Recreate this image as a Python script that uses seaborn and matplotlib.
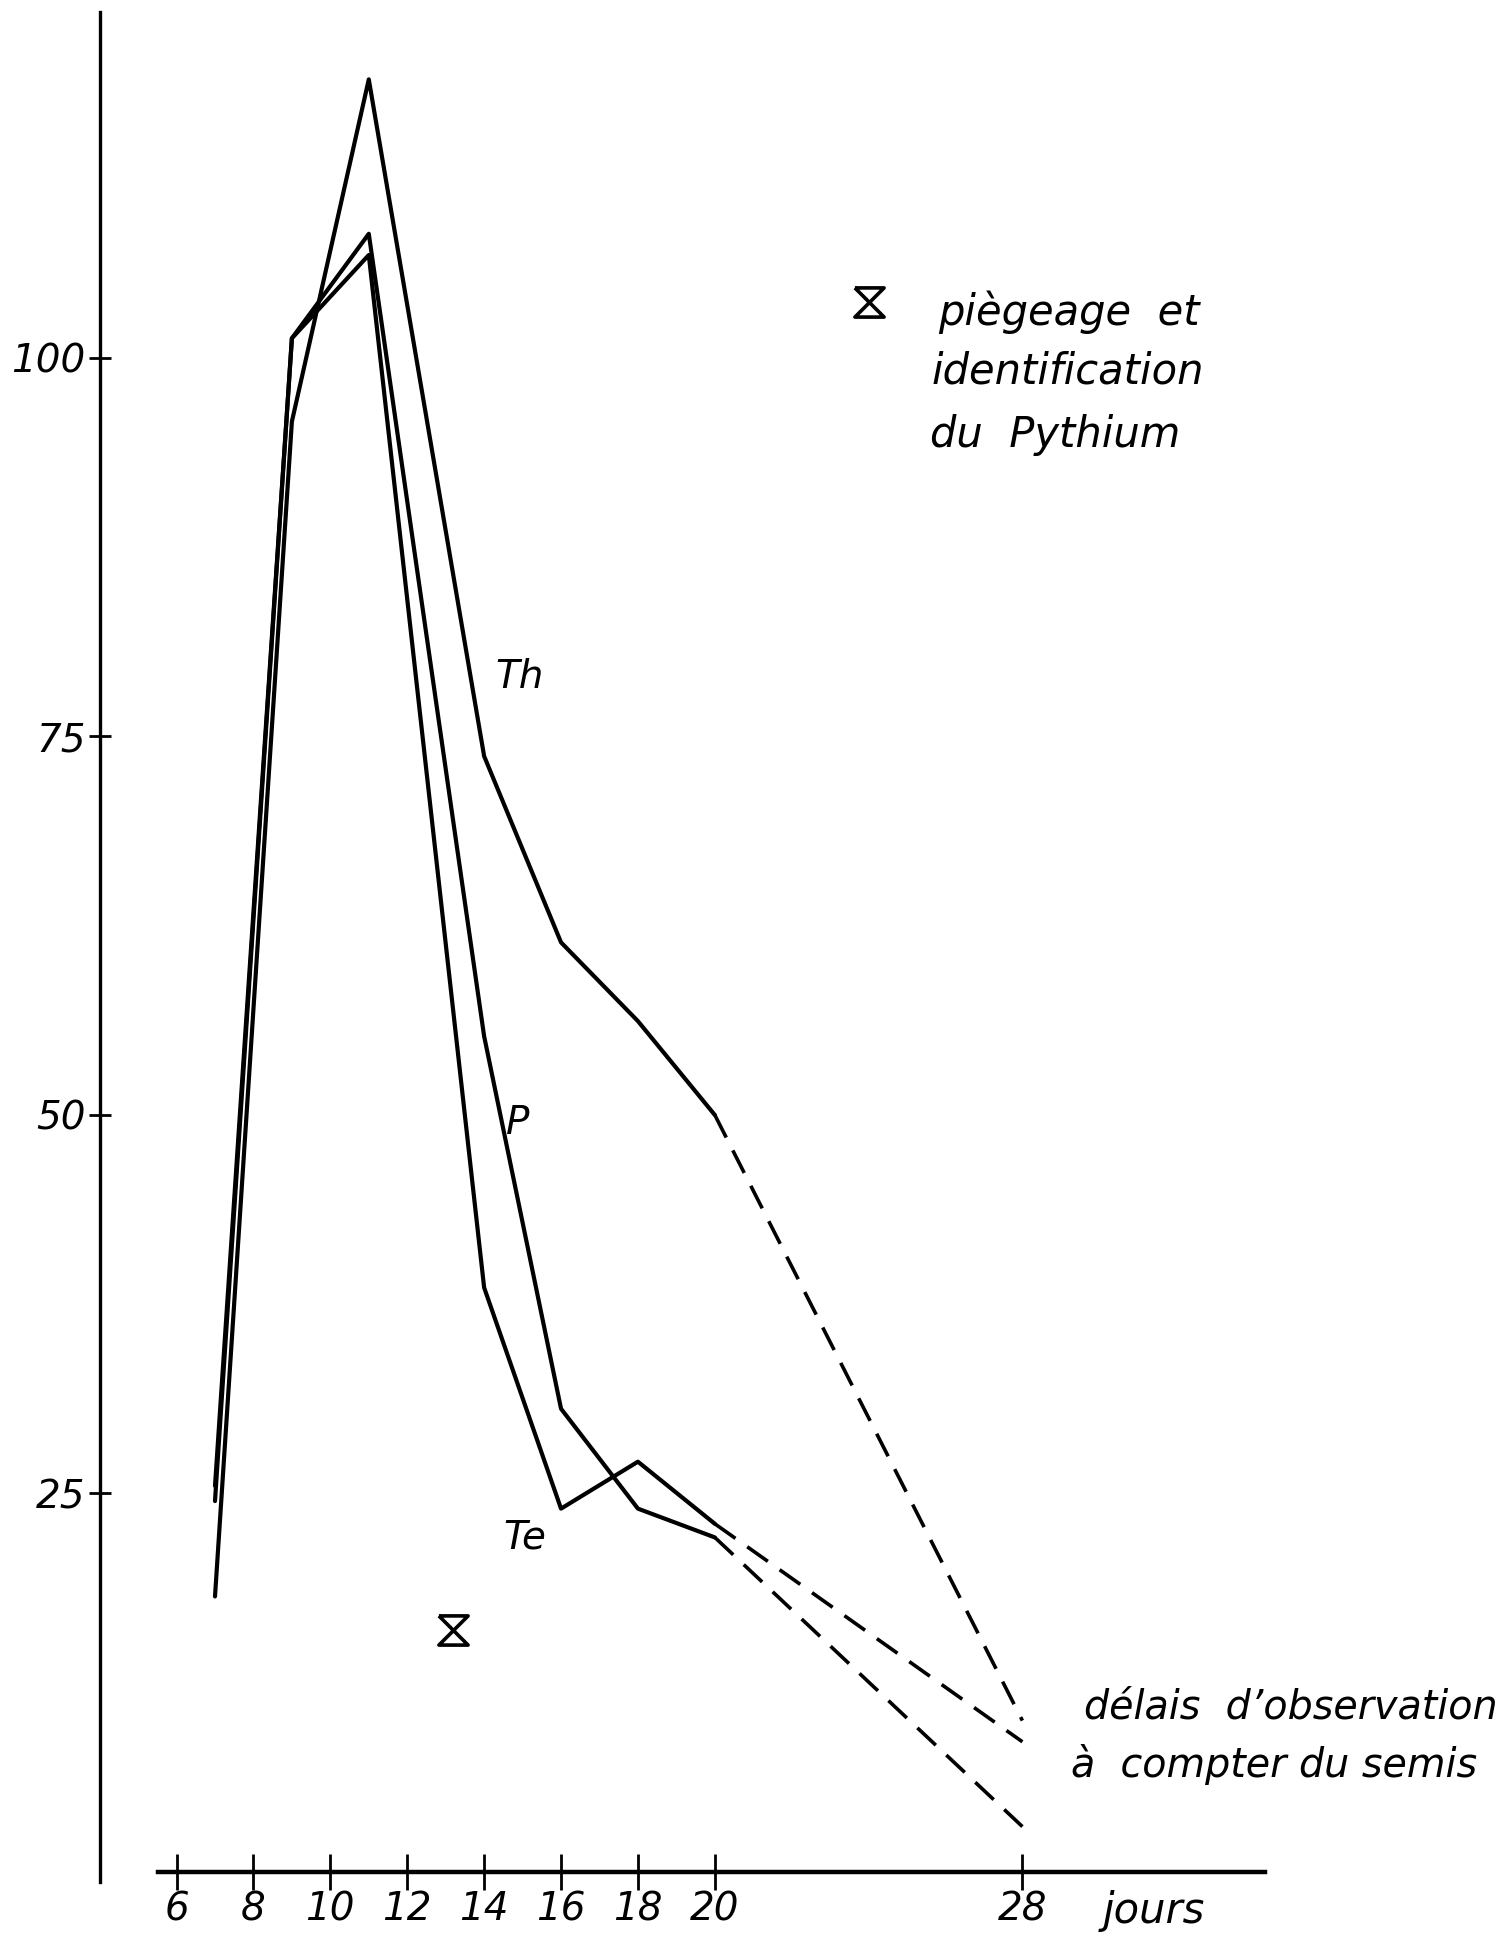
import numpy as np
import pandas as pd
import matplotlib
matplotlib.use("Agg")
import matplotlib.pyplot as plt
import seaborn as sns
from matplotlib.path import Path
from matplotlib.lines import Line2D

# ---- data ----
days = [7, 9, 11, 14, 16, 18, 20, 28]
th_values = [18.2, 95.8, 118.4, 73.7, 61.4, 56.2, 50.0, 10.0]
p_values = [25.5, 101.3, 108.2, 55.2, 30.6, 24.0, 22.1, 3.0]
te_values = [24.5, 101.3, 106.8, 38.6, 24.0, 27.1, 23.0, 8.6]
series_names = ["Th", "P", "Te"]
x_ticks = [6, 8, 10, 12, 14, 16, 18, 20, 28]
y_ticks = [25, 50, 75, 100]
pythium_day = [13.2]
pythium_value = [16.0]
last_solid_day = 20

sns.set_theme(style="white")
plt.rcParams["font.family"] = ["DejaVu Sans"]
plt.rcParams["font.style"] = "italic"
plt.rcParams["text.color"] = "black"
plt.rcParams["xtick.color"] = "black"
plt.rcParams["ytick.color"] = "black"
plt.rcParams["axes.labelcolor"] = "black"

W, H = 1506, 1935
fig = plt.figure(figsize=(W / 100, H / 100), dpi=100)
ax = fig.add_axes([100 / W, 1 - 1882 / H, (1265 - 100) / W, (1882 - 12) / H])

records = []
for name, vals in zip(series_names, [th_values, p_values, te_values]):
    for d, v in zip(days, vals):
        records.append({"series": name, "day": d, "value": v})
df = pd.DataFrame(records)

solid = df[df["day"] <= last_solid_day]
dashed = df[df["day"] >= last_solid_day]

for name in series_names:
    sns.lineplot(data=solid[solid["series"] == name], x="day", y="value",
                 ax=ax, color="black", linewidth=3.0, sort=True)
    sns.lineplot(data=dashed[dashed["series"] == name], x="day", y="value",
                 ax=ax, color="black", linewidth=2.6, sort=True,
                 linestyle=(0, (7, 4)))

hourglass = Path([(-1, 1), (1, 1), (-1, -1), (1, -1), (-1, 1)],
                 [Path.MOVETO, Path.LINETO, Path.LINETO, Path.LINETO, Path.LINETO])
ax.plot(pythium_day, pythium_value, linestyle="none", marker=hourglass,
        markersize=21, markerfacecolor="none", markeredgecolor="black",
        markeredgewidth=2.6)

# series labels
label_pos = {"Th": (14.93, 78.9), "P": (14.88, 49.5), "Te": (15.06, 22.1)}
for name in series_names:
    x, y = label_pos[name]
    ax.text(x, y, name, fontsize=28, ha="center", va="center", color="black")

ax.set_xlim(4.009, 34.31)
ax.set_ylim(-0.66, 122.85)
ax.set_xticks(x_ticks)
ax.set_xticklabels([str(t) for t in x_ticks])
ax.set_yticks(y_ticks)
ax.set_yticklabels([str(t) for t in y_ticks])
ax.set_xlabel("")
ax.set_ylabel("")

for s in ["top", "right"]:
    ax.spines[s].set_visible(False)
ax.spines["bottom"].set_position(("data", 0))
ax.spines["bottom"].set_bounds(5.52, 34.31)
ax.spines["bottom"].set_linewidth(3.2)
ax.spines["left"].set_linewidth(2.4)
ax.spines["bottom"].set_color("black")
ax.spines["left"].set_color("black")

ax.tick_params(axis="x", direction="inout", length=26.6, width=2.0,
               pad=0, labelsize=28, colors="black", bottom=True)
ax.tick_params(axis="y", direction="inout", length=16.5, width=2.0,
               pad=2, labelsize=28, colors="black", left=True)
ax.grid(False)

ax.annotate("jours", xy=(31.42, 0), xytext=(0, -28), textcoords="offset points",
            ha="center", va="center", fontsize=30, color="black")

# legend block
def fx(px):
    return px / W

def fy(py):
    return 1 - py / H

fig.lines.append(Line2D([fx(869)], [fy(302)], transform=fig.transFigure,
                        linestyle="none", marker=hourglass, markersize=21,
                        markerfacecolor="none", markeredgecolor="black",
                        markeredgewidth=2.6))
fig.text(fx(938), fy(325), "piègeage  et", fontsize=30, ha="left", va="baseline", color="black")
fig.text(fx(932), fy(383), "identification", fontsize=30, ha="left", va="baseline", color="black")
fig.text(fx(930), fy(447), "du  Pythium", fontsize=30, ha="left", va="baseline", color="black")

fig.text(fx(1084), fy(1718), "délais  d’observation", fontsize=28.5, ha="left", va="baseline", color="black")
fig.text(fx(1071), fy(1777), "à  compter du semis", fontsize=28.5, ha="left", va="baseline", color="black")

fig.savefig("out.png", dpi=100, facecolor="white")
